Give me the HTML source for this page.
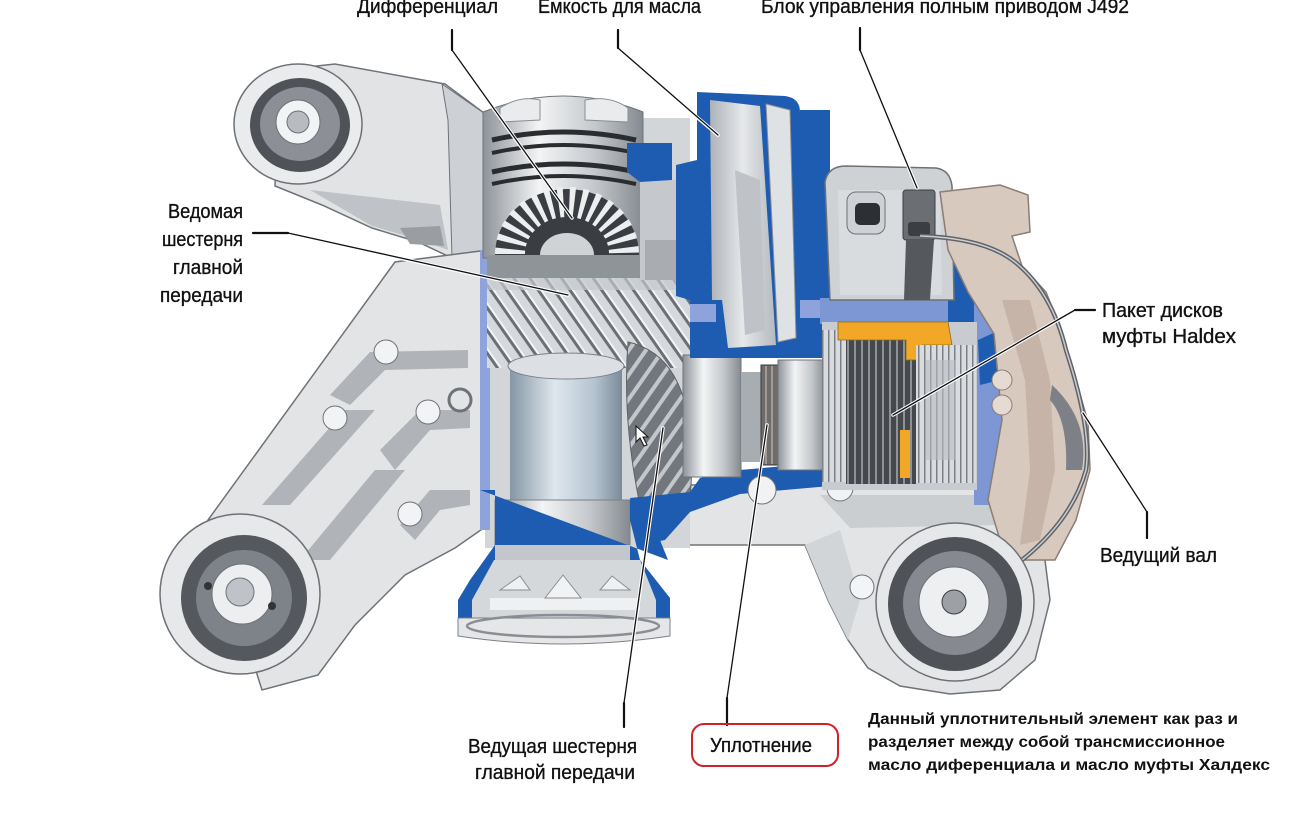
<!DOCTYPE html>
<html><head><meta charset="utf-8">
<style>
html,body{margin:0;padding:0;background:#fff;}
svg{display:block;}
.t{font-family:"Liberation Sans","DejaVu Sans",sans-serif;fill:#111;font-size:20px;stroke:#111;stroke-width:0.35;}
.b{font-family:"Liberation Sans","DejaVu Sans",sans-serif;fill:#111;font-size:16px;font-weight:bold;}
</style></head><body>
<svg width="1312" height="822" viewBox="0 0 1312 822" xmlns="http://www.w3.org/2000/svg">
<defs>
<linearGradient id="metalH" x1="0" x2="1" y1="0" y2="0">
<stop offset="0" stop-color="#8e9399"/><stop offset="0.35" stop-color="#f3f4f5"/><stop offset="0.7" stop-color="#c4c8cc"/><stop offset="1" stop-color="#858a90"/>
</linearGradient>
<linearGradient id="metalV" x1="0" x2="0" y1="0" y2="1">
<stop offset="0" stop-color="#c9cdd1"/><stop offset="0.4" stop-color="#f1f2f3"/><stop offset="1" stop-color="#9ea3a9"/>
</linearGradient>
<linearGradient id="cylH" x1="0" x2="1" y1="0" y2="0">
<stop offset="0" stop-color="#8596a5"/><stop offset="0.4" stop-color="#dfe7ee"/><stop offset="0.75" stop-color="#b5c4d0"/><stop offset="1" stop-color="#7a8b99"/>
</linearGradient>
<linearGradient id="resG" x1="0" x2="1" y1="0" y2="0">
<stop offset="0" stop-color="#aeb3b9"/><stop offset="0.5" stop-color="#e6e8ea"/><stop offset="1" stop-color="#b4b9be"/>
</linearGradient>
<pattern id="discs" width="7" height="10" patternUnits="userSpaceOnUse">
<rect width="7" height="10" fill="#45484d"/><rect x="0" width="2" height="10" fill="#8e9297"/>
</pattern>
<pattern id="teeth" width="13" height="13" patternUnits="userSpaceOnUse" patternTransform="rotate(-35)">
<rect width="13" height="13" fill="#d6d9dc"/><rect width="3" height="13" fill="#6c7076"/><rect x="3" width="2" height="13" fill="#f4f5f6"/>
</pattern>
<pattern id="helix" width="14" height="14" patternUnits="userSpaceOnUse" patternTransform="rotate(35)">
<rect width="14" height="14" fill="#72777d"/><rect width="4" height="14" fill="#c3c7cb"/>
</pattern>
<pattern id="rings" width="6" height="10" patternUnits="userSpaceOnUse">
<rect width="6" height="10" fill="#d9dcdf"/><rect width="1.5" height="10" fill="#7c8086"/>
</pattern>
</defs>

<!-- ===== Upper left arm ===== -->
<path d="M280,70 L335,64 L445,84 L488,116 L488,262 L452,258 L418,242 L372,228 L322,205 L275,186 Z" fill="#e1e3e5" stroke="#6f7378" stroke-width="1.5"/>
<path d="M442,84 L488,116 L488,262 L452,258 L448,120 Z" fill="#cdd0d4" stroke="#6f7378" stroke-width="1"/>
<path d="M310,190 L440,205 L448,250 L420,240 L372,226 Z" fill="#bfc3c7"/>
<path d="M400,228 L440,226 L444,246 L410,244 Z" fill="#9a9ea3"/>

<!-- ===== Lower truss ===== -->
<path d="M208,520 L395,262 L488,250 L488,525 L455,548 L405,575 L355,625 L318,675 L262,690 Z" fill="#e2e4e6" stroke="#6f7378" stroke-width="1.5"/>
<path d="M330,395 L370,352 L468,350 L468,368 L385,370 L350,405 Z" fill="#b0b4b9"/>
<path d="M262,505 L345,410 L375,410 L290,505 Z" fill="#b0b4b9"/>
<path d="M380,450 L420,410 L470,410 L470,428 L430,430 L395,470 Z" fill="#b0b4b9"/>
<path d="M300,560 L375,470 L405,470 L330,560 Z" fill="#b0b4b9"/>
<path d="M400,525 L430,490 L470,490 L470,505 L440,510 L415,540 Z" fill="#b0b4b9"/>
<circle cx="386" cy="352" r="12" fill="#f2f3f4" stroke="#6f7378"/>
<circle cx="335" cy="418" r="12" fill="#f2f3f4" stroke="#6f7378"/>
<circle cx="428" cy="412" r="12" fill="#f2f3f4" stroke="#6f7378"/>
<circle cx="410" cy="514" r="12" fill="#f2f3f4" stroke="#6f7378"/>
<circle cx="460" cy="400" r="11" fill="none" stroke="#6f7378" stroke-width="3"/>

<!-- ===== Upper left bushing ===== -->
<ellipse cx="298" cy="124" rx="64" ry="60" fill="#eaebec" stroke="#6d7177" stroke-width="1.5"/>
<ellipse cx="300" cy="125" rx="50" ry="47" fill="#4f5358"/>
<ellipse cx="300" cy="124" rx="40" ry="37" fill="#8c9096"/>
<circle cx="298" cy="122" r="22" fill="#f2f3f4" stroke="#6d7177"/>
<circle cx="298" cy="122" r="11" fill="#b8bcc0" stroke="#6d7177"/>

<!-- ===== Lower left bushing ===== -->
<circle cx="240" cy="594" r="80" fill="#e7e8ea" stroke="#6d7177" stroke-width="1.5"/>
<circle cx="244" cy="598" r="63" fill="#55595e"/>
<circle cx="244" cy="598" r="48" fill="#7e8389"/>
<circle cx="242" cy="594" r="30" fill="#eceef0" stroke="#6d7177"/>
<circle cx="240" cy="592" r="14" fill="#bfc3c7" stroke="#6d7177"/>
<circle cx="208" cy="586" r="4" fill="#333"/>
<circle cx="272" cy="606" r="4" fill="#333"/>

<!-- ===== Lower right bracket ===== -->
<path d="M640,485 L1000,485 L1040,520 L1050,600 L1035,660 L1000,690 L950,694 L900,686 L868,668 L848,640 L828,600 L805,545 L660,545 L640,530 Z" fill="#e3e4e6" stroke="#6f7378" stroke-width="1.5"/>
<path d="M820,495 L990,495 L1005,525 L850,528 Z" fill="#cbced1"/>
<path d="M805,545 L828,600 L848,640 L860,600 L840,530 Z" fill="#d2d5d8"/>
<circle cx="862" cy="587" r="12" fill="#f3f4f5" stroke="#6f7378"/>

<!-- ===== Central housing back ===== -->
<rect x="485" y="118" width="205" height="430" fill="#d3d6d9"/>
<rect x="480" y="250" width="10" height="280" fill="#8ea3dc"/>

<!-- differential cap -->
<path d="M483,112 Q563,80 643,112 L643,258 L483,258 Z" fill="url(#metalH)" stroke="#6f7378"/>
<path d="M500,108 Q520,95 540,100 L540,120 L500,122 Z" fill="#e9ebed" stroke="#8a8e93"/>
<path d="M585,100 Q610,95 628,108 L628,122 L585,120 Z" fill="#e9ebed" stroke="#8a8e93"/>
<path d="M492,140 Q563,124 636,140" stroke="#2a2c30" stroke-width="5" fill="none"/>
<path d="M492,153 Q563,137 636,153" stroke="#2a2c30" stroke-width="4" fill="none"/>
<path d="M492,172 Q563,156 636,172" stroke="#2a2c30" stroke-width="5" fill="none"/>
<path d="M492,184 Q563,168 636,184" stroke="#2a2c30" stroke-width="4" fill="none"/>
<!-- side gear -->
<path d="M495,255 A72,66 0 0 1 639,255 Z" fill="#3a3d42"/>
<path d="M510,254 A57,52 0 0 1 624,254" stroke="#eceef0" stroke-width="30" stroke-dasharray="5 6" fill="none"/>
<path d="M540,255 A27,22 0 0 1 594,255 Z" fill="#cfd3d6"/>
<rect x="487" y="255" width="158" height="24" fill="#8f9499"/>

<!-- ring gear -->
<path d="M487,278 L690,278 L690,368 L487,368 Z" fill="url(#teeth)"/>
<path d="M487,278 L690,278 L690,290 L487,290 Z" fill="#c4c8cc" opacity="0.7"/>

<!-- right wall between diff and reservoir -->
<rect x="640" y="180" width="50" height="100" fill="#c5c8cc"/>
<rect x="645" y="240" width="40" height="40" fill="#a9adb2"/>
<path d="M627,143 L672,143 L672,180 L640,182 L627,172 Z" fill="#1d5cb0"/>

<!-- pinion cylinder -->
<rect x="510" y="362" width="112" height="160" fill="url(#cylH)"/>
<ellipse cx="566" cy="366" rx="58" ry="13" fill="#dce0e4" stroke="#7c8187"/>
<rect x="495" y="500" width="135" height="45" fill="url(#metalH)" stroke="#7c8187"/>

<!-- helical pinion -->
<path d="M628,342 Q702,358 690,500 L640,505 Q622,420 628,342 Z" fill="url(#helix)" stroke="#5d6166"/>
<path d="M636,426 L636,442 L640,438 L644,446 L647,445 L643,437 L648,437 Z" fill="#fff" stroke="#111" stroke-width="1"/>

<!-- flange (blue cup) -->
<path d="M480,490 L495,490 L495,545 L470,580 L458,600 L458,636 L670,636 L670,598 L640,560 L630,520 L630,500 L690,498 L690,512 L660,540 L668,560 Z" fill="#1d5cb0"/>
<path d="M472,600 L494,560 L640,560 L656,600 L656,628 L472,628 Z" fill="#d5d8db"/>
<path d="M458,618 L670,618 L670,636 Q563,652 458,636 Z" fill="#e4e6e8" stroke="#7c8187"/>
<ellipse cx="563" cy="626" rx="96" ry="11" fill="none" stroke="#8a8e93" stroke-width="2.5"/>
<path d="M490,598 L640,598 L640,610 L490,610 Z" fill="#eef0f1"/>
<path d="M545,598 L563,575 L581,598 Z" fill="#f1f2f3" stroke="#8a8e93"/>
<path d="M500,590 L520,576 L530,590 Z" fill="#eef0f1" stroke="#8a8e93"/>
<path d="M600,590 L612,576 L630,590 Z" fill="#eef0f1" stroke="#8a8e93"/>
<rect x="495" y="545" width="135" height="15" fill="#c3c7cb"/>

<!-- blue band under middle shaft -->
<path d="M630,498 L690,492 L700,478 L740,470 L830,462 L830,486 L740,494 L690,512 L665,540 L640,545 Z" fill="#1d5cb0"/>
<circle cx="762" cy="490" r="14" fill="#f1f2f3" stroke="#6f7378"/>
<circle cx="840" cy="488" r="13" fill="#f1f2f3" stroke="#6f7378"/>

<!-- middle shaft / bearings -->
<rect x="683" y="355" width="58" height="122" fill="url(#metalH)" stroke="#6f7378"/>
<rect x="741" y="372" width="20" height="90" fill="#a8adb2"/>
<rect x="761" y="365" width="17" height="100" fill="#6e6c6b" stroke="#3a3a3a"/>
<line x1="766" y1="366" x2="766" y2="464" stroke="#b0aaa6" stroke-width="1.5"/>
<line x1="772" y1="366" x2="772" y2="464" stroke="#b0aaa6" stroke-width="1.5"/>
<rect x="778" y="360" width="48" height="110" fill="url(#metalH)" stroke="#6f7378"/>

<!-- reservoir -->
<path d="M697,92 L785,96 Q800,98 800,112 L800,240 L818,243 L818,300 L830,302 L830,335 L822,338 L822,358 L690,358 L690,300 L676,296 L676,165 L697,160 Z" fill="#1d5cb0"/>
<path d="M710,100 L760,106 L776,345 L728,348 L722,300 L712,300 Z" fill="url(#resG)"/>
<path d="M766,104 L790,110 L796,338 L778,342 Z" fill="#dfe2e5" stroke="#8a8e93"/>
<path d="M735,170 L760,180 L765,330 L745,335 Z" fill="#bfc3c8"/>
<rect x="690" y="304" width="26" height="18" fill="#8ea3dc"/>
<rect x="800" y="300" width="22" height="18" fill="#8ea3dc"/>

<!-- blue above haldex -->
<path d="M800,110 L830,110 L830,300 L800,300 Z" fill="#1d5cb0"/>
<path d="M820,298 L965,298 L965,322 L820,324 Z" fill="#7d96d4"/>
<path d="M948,212 L974,212 L974,330 L948,330 Z" fill="#1d5cb0"/>
<path d="M974,300 L1002,300 L1002,505 L974,505 Z" fill="#7d96d4"/>
<path d="M978,340 L1000,330 L1000,380 L980,385 Z" fill="#1d5cb0"/>

<!-- haldex -->
<rect x="822" y="322" width="155" height="168" fill="#c8cbcf"/>
<rect x="822" y="330" width="24" height="152" fill="url(#rings)"/>
<rect x="846" y="328" width="70" height="156" fill="url(#discs)"/>
<path d="M838,322 L948,322 L952,345 L922,345 L918,360 L906,360 L906,340 L838,340 Z" fill="#f2a727" stroke="#8a6a20" stroke-width="0.8"/>
<rect x="900" y="430" width="10" height="48" fill="#f2a727"/>
<rect x="946" y="465" width="16" height="14" fill="#f2a727"/>
<rect x="916" y="345" width="60" height="138" fill="url(#rings)"/>
<rect x="926" y="360" width="30" height="100" fill="#b9bdc1" opacity="0.6"/>

<!-- control unit -->
<path d="M825,182 Q828,166 846,166 L936,168 Q950,170 952,186 L954,300 L830,300 Z" fill="#cfd2d5" stroke="#6d7177" stroke-width="1.5"/>
<path d="M838,190 L940,190 L942,295 L840,295 Z" fill="#d9dcdf"/>
<rect x="847" y="192" width="38" height="42" rx="9" fill="#cfd2d5" stroke="#6d7177"/>
<rect x="855" y="203" width="25" height="22" rx="5" fill="#2c2f33"/>
<rect x="903" y="190" width="32" height="50" rx="3" fill="#6b6f74" stroke="#3b3e42"/>
<rect x="908" y="222" width="22" height="14" rx="3" fill="#3b3e42"/>
<path d="M906,240 L934,240 L930,300 L904,300 Z" fill="#55595e"/>

<!-- beige cover -->
<path d="M940,192 L1000,185 L1028,195 L1030,232 L1012,236 L1022,266 L1046,292 L1062,332 L1076,380 L1088,422 L1090,470 L1076,520 L1055,560 L1012,560 L1000,540 L988,500 L1002,420 L994,334 L968,292 L948,250 Z" fill="#d8c9bf" stroke="#8a7d74" stroke-width="1.5"/>
<path d="M1002,300 L1030,300 L1050,380 L1055,470 L1040,540 L1020,545 L1030,470 L1025,380 Z" fill="#c6b4a8"/>
<path d="M1052,385 Q1090,420 1082,470 L1066,470 Q1068,420 1050,400 Z" fill="#7d8187"/>
<circle cx="1002" cy="380" r="10" fill="#e6dbd3" stroke="#8a7d74"/>
<circle cx="1002" cy="405" r="10" fill="#e6dbd3" stroke="#8a7d74"/>

<!-- cable -->
<path d="M920,236 Q985,238 1015,262 Q1052,292 1066,350 Q1092,430 1086,470 Q1072,520 1022,560 Q1004,574 992,580" stroke="#5f6368" stroke-width="4.5" fill="none"/>
<path d="M920,236 Q985,238 1015,262 Q1052,292 1066,350 Q1092,430 1086,470 Q1072,520 1022,560 Q1004,574 992,580" stroke="#c9ccd0" stroke-width="1.5" fill="none"/>

<!-- lower right bushing -->
<circle cx="955" cy="602" r="79" fill="#e6e7e9" stroke="#6d7177" stroke-width="1.5"/>
<circle cx="955" cy="604" r="67" fill="#4f5358"/>
<circle cx="955" cy="603" r="52" fill="#868a90"/>
<circle cx="954" cy="602" r="35" fill="#edeff1" stroke="#6d7177"/>
<circle cx="954" cy="602" r="12" fill="#9da1a6" stroke="#3b3e42"/>

<!-- ===== Leader lines ===== -->
<g fill="none" stroke-linecap="round">
<g stroke="#fff" stroke-width="3.5">
<path d="M456,56 L572,218"/><path d="M622,54 L718,135"/><path d="M863,56 L917,188"/>
<path d="M295,235 L568,295"/><path d="M1070,313 L893,415"/><path d="M1143,506 L1083,413"/>
<path d="M625,697 L663,428"/><path d="M728,692 L767,425"/>
</g>
<g stroke="#111" stroke-width="1.3">
<path d="M452,50 L572,218"/><path d="M618,48 L718,135"/><path d="M860,50 L917,188"/>
<path d="M288,233 L568,295"/><path d="M1075,310 L893,415"/><path d="M1147,512 L1083,413"/>
<path d="M624,703 L663,428"/><path d="M727,698 L767,425"/>
</g>
<g stroke="#111" stroke-width="2.2">
<path d="M452,30 L452,50"/><path d="M618,30 L618,48"/><path d="M860,28 L860,50"/>
<path d="M253,233 L288,233"/><path d="M1075,310 L1095,310"/><path d="M1147,512 L1147,538"/>
<path d="M624,703 L624,727"/><path d="M727,698 L727,725"/>
</g>
</g>

<!-- red box -->
<rect x="692" y="724" width="146" height="42" rx="12" fill="none" stroke="#d0202a" stroke-width="2"/>

<!-- ===== Text ===== -->
<text class="t" x="357" y="13" font-size="19" textLength="141" lengthAdjust="spacingAndGlyphs">Дифференциал</text>
<text class="t" x="538" y="13" font-size="19" textLength="163" lengthAdjust="spacingAndGlyphs">Емкость для масла</text>
<text class="t" x="761" y="13" font-size="19" textLength="368" lengthAdjust="spacingAndGlyphs">Блок управления полным приводом J492</text>

<text class="t" x="168" y="218" textLength="75" lengthAdjust="spacingAndGlyphs">Ведомая</text>
<text class="t" x="162" y="246" textLength="81" lengthAdjust="spacingAndGlyphs">шестерня</text>
<text class="t" x="173" y="274" textLength="70" lengthAdjust="spacingAndGlyphs">главной</text>
<text class="t" x="160" y="302" textLength="83" lengthAdjust="spacingAndGlyphs">передачи</text>

<text class="t" x="1102" y="317" textLength="121" lengthAdjust="spacingAndGlyphs">Пакет дисков</text>
<text class="t" x="1102" y="343" textLength="134" lengthAdjust="spacingAndGlyphs">муфты Haldex</text>
<text class="t" x="1100" y="562" textLength="117" lengthAdjust="spacingAndGlyphs">Ведущий вал</text>

<text class="t" x="468" y="753" textLength="169" lengthAdjust="spacingAndGlyphs">Ведущая шестерня</text>
<text class="t" x="475" y="779" textLength="160" lengthAdjust="spacingAndGlyphs">главной передачи</text>
<text class="t" x="710" y="752" textLength="102" lengthAdjust="spacingAndGlyphs">Уплотнение</text>

<text class="b" x="868" y="724" textLength="370" lengthAdjust="spacingAndGlyphs">Данный  уплотнительный  элемент как раз  и</text>
<text class="b" x="868" y="747" textLength="357" lengthAdjust="spacingAndGlyphs">разделяет  между собой  трансмиссионное</text>
<text class="b" x="868" y="770" textLength="402" lengthAdjust="spacingAndGlyphs">масло  диференциала и   масло  муфты  Халдекс</text>
</svg>
</body></html>
